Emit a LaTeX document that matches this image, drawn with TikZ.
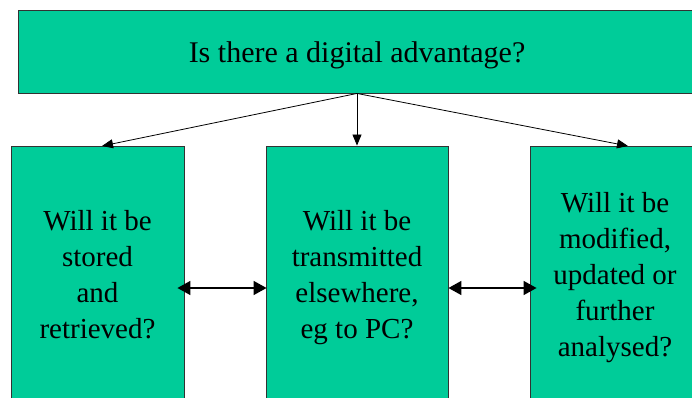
\documentclass[tikz,border=0pt]{standalone}
\usepackage{fontspec}
\setmainfont{Liberation Serif}
\usetikzlibrary{arrows.meta}
\definecolor{boxgreen}{RGB}{0,204,153}
\definecolor{edgegray}{RGB}{50,50,50}
\tikzset{
  panel/.style={draw=edgegray, fill=boxgreen, line width=0.9pt, inner sep=0pt},
  boxtext/.style={align=center, inner sep=0pt, font=\fontsize{29}{36}\selectfont},
  feed/.style={-{Triangle[length=11pt,width=9pt]}, line width=0.8pt},
  link/.style={{Triangle[length=13pt,width=14pt]}-{Triangle[length=13pt,width=14pt]}, line width=1.6pt}
}
\begin{document}
\begin{tikzpicture}[x=1pt,y=-1pt]
  \clip (0,0) rectangle (692,398);
  \fill[white] (0,0) rectangle (692,398);
  % question box across the top
  \node[panel, minimum width=678pt, minimum height=83pt] (top) at (357,51.5) {};
  \node[font=\fontsize{30}{36}\selectfont, anchor=base] (q) at (357,62.5) {Is there a digital advantage?};
  % three option columns
  \node[panel, minimum width=173pt, minimum height=284pt] (lbox) at (97.5,288) {};
  \node[panel, minimum width=182pt, minimum height=284pt] (mbox) at (357,288) {};
  \node[panel, minimum width=170pt, minimum height=284pt] (rbox) at (615,288) {};
  % text anchored at the baseline of its last line
  \node[boxtext, anchor=base] (ltext) at (97.5,338) {Will it be\\stored\\and\\retrieved?};
  \node[boxtext, anchor=base] (mtext) at (357,338) {Will it be\\transmitted\\elsewhere,\\eg to PC?};
  \node[boxtext, anchor=base] (rtext) at (615,356) {Will it be\\modified,\\updated or\\further\\analysed?};
  % arrow targets on the column tops
  \coordinate (lt) at (102,146);
  \coordinate (rt) at (628,146);
  \draw[feed] (top.south) -- (lt);
  \draw[feed] (top.south) -- (mbox.north);
  \draw[feed] (top.south) -- (rt);
  % links between neighbouring columns
  \draw[link, shorten <=-7pt, shorten >=-1pt] (lbox.east) -- (mbox.west);
  \draw[link, shorten >=-7pt] (mbox.east) -- (rbox.west);
\end{tikzpicture}
\end{document}
